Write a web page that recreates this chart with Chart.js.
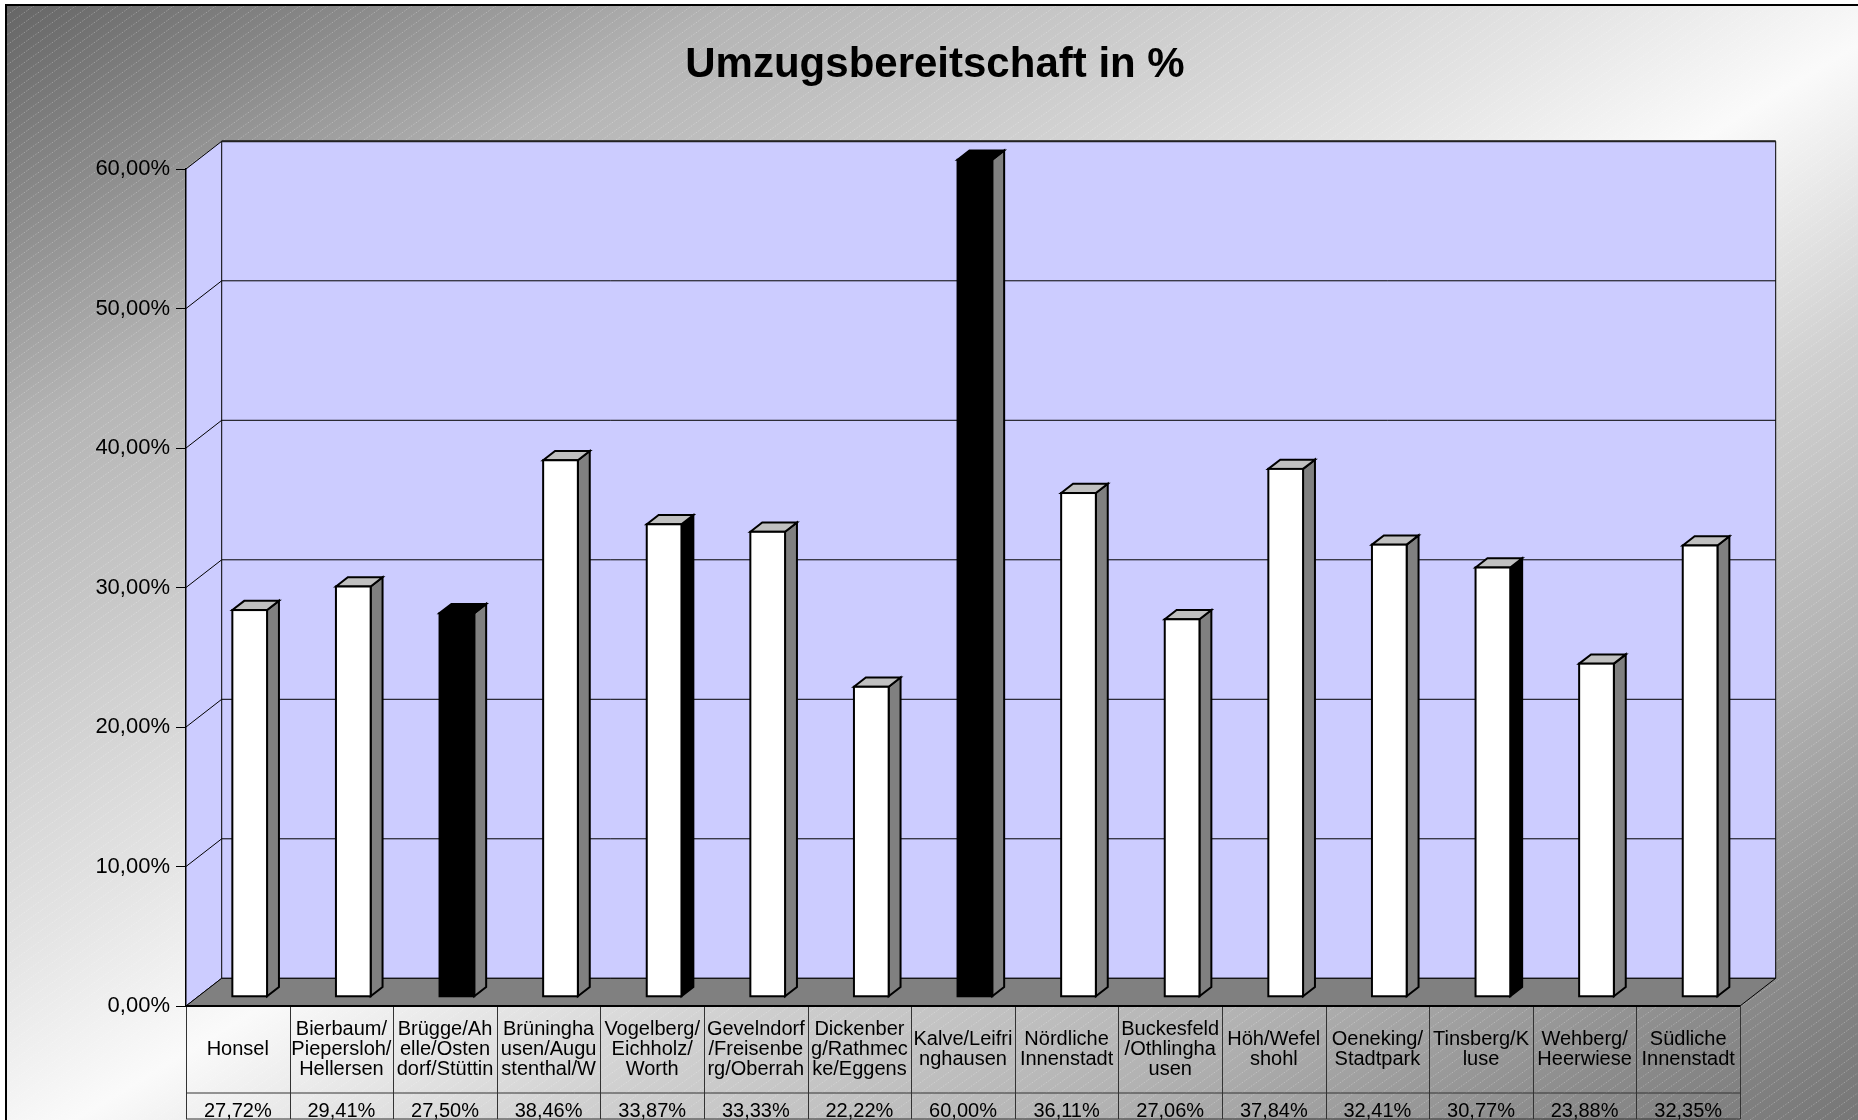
<!DOCTYPE html>
<html><head><meta charset="utf-8">
<script src="https://cdn.jsdelivr.net/npm/chart.js@4.4.1/dist/chart.umd.min.js"></script>
<style>html,body{margin:0;padding:0;background:#fff;overflow:hidden}canvas{display:block}</style>
</head><body>
<div style="width:1858px;height:1120px"><canvas id="c" width="1858" height="1120"></canvas></div>
<script>
// ---- data ----
const chartTitle = "Umzugsbereitschaft in %";
const categories = [
  ["Honsel"],
  ["Bierbaum/", "Piepersloh/", "Hellersen"],
  ["Brügge/Ah", "elle/Osten", "dorf/Stüttin"],
  ["Brüningha", "usen/Augu", "stenthal/W"],
  ["Vogelberg/", "Eichholz/", "Worth"],
  ["Gevelndorf", "/Freisenbe", "rg/Oberrah"],
  ["Dickenber", "g/Rathmec", "ke/Eggens"],
  ["Kalve/Leifri", "nghausen"],
  ["Nördliche", "Innenstadt"],
  ["Buckesfeld", "/Othlingha", "usen"],
  ["Höh/Wefel", "shohl"],
  ["Oeneking/", "Stadtpark"],
  ["Tinsberg/K", "luse"],
  ["Wehberg/", "Heerwiese"],
  ["Südliche", "Innenstadt"]
];
const values = [27.72, 29.41, 27.50, 38.46, 33.87, 33.33, 22.22, 60.00, 36.11, 27.06, 37.84, 32.41, 30.77, 23.88, 32.35];
const yTickValues = [0, 10, 20, 30, 40, 50, 60];

// ---- styles ----
const frontColors = values.map((v, i) => (i === 2 || i === 7) ? '#000000' : '#ffffff');
const sideColors  = values.map((v, i) => (i === 4 || i === 12) ? '#000000' : '#808080');
const topColors   = values.map((v, i) => (i === 2 || i === 7) ? '#000000' : '#c0c0c0');
const FONT = "'Liberation Sans', Arial, sans-serif";
const fmt = v => v.toFixed(2).replace('.', ',') + '%';
const DX = 35.7, DY = 27.7;

function hatchPattern(ctx) {
  const c = document.createElement('canvas');
  const w = 14, h = 10;
  c.width = w; c.height = h;
  const g = c.getContext('2d');
  g.strokeStyle = 'rgba(255,255,255,0.28)';
  g.lineWidth = 1;
  g.setLineDash([1.5, 1.5]);
  g.beginPath();
  g.moveTo(0, h); g.lineTo(w, 0);
  g.moveTo(-w, h); g.lineTo(0, 0);
  g.moveTo(w, 2 * h); g.lineTo(2 * w, h);
  g.stroke();
  return ctx.createPattern(c, 'repeat');
}

const plugin3d = {
  id: 'threeD',
  beforeDraw(chart) {
    const ctx = chart.ctx, W = chart.width, H = chart.height;
    ctx.save();
    ctx.fillStyle = '#ffffff';
    ctx.fillRect(0, 0, W, H);
    // gradient whose bands run parallel to the bottom-left -> top-right diagonal
    const cx = W / 2, cy = H / 2, len = Math.hypot(W, H);
    const ux = H / len, uy = W / len;
    const half = (cx * ux + cy * uy);
    const g = ctx.createLinearGradient(cx - half * ux, cy - half * uy, cx + half * ux, cy + half * uy);
    g.addColorStop(0, '#646464');
    g.addColorStop(0.1, '#8a8a8a');
    g.addColorStop(0.2, '#b4b4b4');
    g.addColorStop(0.3, '#c8c8c8');
    g.addColorStop(0.43, '#e4e4e4');
    g.addColorStop(0.52, '#fafafa');
    g.addColorStop(0.65, '#d0d0d0');
    g.addColorStop(0.79, '#b2b2b2');
    g.addColorStop(0.91, '#8c8c8c');
    g.addColorStop(1, '#767676');
    ctx.fillStyle = g;
    ctx.fillRect(6, 5, W - 6, H - 5);
    ctx.fillStyle = hatchPattern(ctx);
    ctx.fillRect(6, 5, W - 6, H - 5);
    ctx.strokeStyle = '#000'; ctx.lineWidth = 2;
    ctx.beginPath(); ctx.moveTo(6, H); ctx.lineTo(6, 5); ctx.lineTo(W, 5); ctx.stroke();

    const a = chart.chartArea, ys = chart.scales.y;
    const L = a.left, R = a.right, T = a.top, B = a.bottom;
    // back wall & left wall
    ctx.fillStyle = '#ccccff';
    ctx.fillRect(L + DX, T - DY, R - L, B - T);
    ctx.beginPath();
    ctx.moveTo(L, T); ctx.lineTo(L + DX, T - DY); ctx.lineTo(L + DX, B - DY); ctx.lineTo(L, B);
    ctx.closePath(); ctx.fill();
    // gridlines
    ctx.strokeStyle = '#000'; ctx.lineWidth = 1;
    ys.ticks.forEach(t => {
      const y = ys.getPixelForValue(t.value);
      ctx.beginPath();
      ctx.moveTo(L, y); ctx.lineTo(L + DX, y - DY); ctx.lineTo(R + DX, y - DY);
      ctx.stroke();
    });
    ctx.beginPath();
    ctx.moveTo(L + DX, B - DY); ctx.lineTo(L + DX, T - DY);
    ctx.moveTo(R + DX, T - DY); ctx.lineTo(R + DX, B - DY);
    ctx.stroke();
    ctx.lineWidth = 2; ctx.strokeStyle = '#222';
    ctx.beginPath(); ctx.moveTo(L + DX, T - DY); ctx.lineTo(R + DX, T - DY); ctx.stroke();
    // floor
    ctx.lineWidth = 1; ctx.strokeStyle = '#000';
    ctx.fillStyle = '#808080';
    ctx.beginPath();
    ctx.moveTo(L, B); ctx.lineTo(L + DX, B - DY); ctx.lineTo(R + DX, B - DY); ctx.lineTo(R, B);
    ctx.closePath(); ctx.fill(); ctx.stroke();
    ctx.restore();
  },
  afterDatasetsDraw(chart) {
    const ctx = chart.ctx;
    const meta = chart.getDatasetMeta(0);
    const fx = DX / 3, fy = DY / 3, bx = DX / 3, by = DY / 3;
    ctx.save();
    ctx.lineWidth = 2; ctx.strokeStyle = '#000'; ctx.lineJoin = 'miter';
    meta.data.forEach((el, i) => {
      const p = el.getProps(['x', 'y', 'base', 'width'], true);
      const x0 = p.x - p.width / 2 + fx, x1 = p.x + p.width / 2 + fx;
      const top = p.y - fy, bot = p.base - fy;
      ctx.fillStyle = sideColors[i];
      ctx.beginPath();
      ctx.moveTo(x1, top); ctx.lineTo(x1 + bx, top - by); ctx.lineTo(x1 + bx, bot - by); ctx.lineTo(x1, bot);
      ctx.closePath(); ctx.fill(); ctx.stroke();
      ctx.fillStyle = topColors[i];
      ctx.beginPath();
      ctx.moveTo(x0, top); ctx.lineTo(x0 + bx, top - by); ctx.lineTo(x1 + bx, top - by); ctx.lineTo(x1, top);
      ctx.closePath(); ctx.fill(); ctx.stroke();
      ctx.fillStyle = frontColors[i];
      ctx.fillRect(x0, top, x1 - x0, bot - top);
      ctx.strokeRect(x0, top, x1 - x0, bot - top);
    });
    ctx.restore();
  },
  afterDraw(chart) {
    const ctx = chart.ctx, xs = chart.scales.x, a = chart.chartArea;
    const n = categories.length;
    const cw = (a.right - a.left) / n;
    const top = a.bottom, mid = a.bottom + 87, bot = a.bottom + 113;
    ctx.save();
    ctx.strokeStyle = '#333'; ctx.lineWidth = 1;
    ctx.beginPath();
    ctx.moveTo(a.left, mid); ctx.lineTo(a.right, mid);
    ctx.moveTo(a.left, bot); ctx.lineTo(a.right, bot);
    for (let i = 0; i <= n; i++) {
      const x = (i < n ? xs.getPixelForValue(i) - cw / 2 : xs.getPixelForValue(n - 1) + cw / 2);
      ctx.moveTo(Math.round(x) + 0.5, top); ctx.lineTo(Math.round(x) + 0.5, bot);
    }
    ctx.stroke();
    ctx.strokeStyle = '#000'; ctx.lineWidth = 2;
    ctx.beginPath(); ctx.moveTo(a.left, top); ctx.lineTo(a.right, top); ctx.stroke();
    ctx.fillStyle = '#000';
    ctx.font = '20px ' + FONT;
    ctx.textAlign = 'center'; ctx.textBaseline = 'middle';
    const lh = 20, cy = a.bottom + 43;
    categories.forEach((lines, i) => {
      const x = xs.getPixelForValue(i);
      const y0 = cy - (lines.length - 1) * lh / 2;
      lines.forEach((t, k) => ctx.fillText(t, x, y0 + k * lh));
      ctx.fillText(fmt(values[i]), x, a.bottom + 105);
    });
    ctx.restore();
  }
};

new Chart(document.getElementById('c'), {
  type: 'bar',
  data: {
    labels: categories.map(c => c.join('')),
    datasets: [{
      data: values,
      backgroundColor: 'rgba(0,0,0,0)',
      borderWidth: 0,
      categoryPercentage: 1,
      barPercentage: 0.335,
      yAxisID: 'y'
    }]
  },
  options: {
    responsive: false,
    animation: false,
    devicePixelRatio: 1,
    layout: { padding: { left: 12, top: 0, right: 0, bottom: 114 } },
    plugins: {
      legend: { display: false },
      tooltip: { enabled: false },
      title: {
        display: true,
        text: chartTitle,
        color: '#000',
        font: { family: FONT, size: 42, weight: 'bold', lineHeight: 1.2 },
        padding: { top: 40, bottom: 78.6 }
      }
    },
    scales: {
      x: { display: false },
      y: {
        min: 0, max: 60,
        afterFit(scale) { scale.width = 174; },
        afterBuildTicks(scale) { scale.ticks = yTickValues.map(v => ({ value: v })); },
        ticks: {
          color: '#000',
          font: { family: FONT, size: 22 },
          padding: 6,
          callback: v => fmt(v)
        },
        grid: { drawOnChartArea: false, drawTicks: true, tickLength: 10, color: '#000' },
        border: { display: true, color: '#000', width: 1.5 }
      },
      yR: {
        position: 'right',
        min: 0, max: 60,
        afterFit(scale) { scale.width = 118; },
        ticks: { display: false },
        grid: { display: false, drawTicks: false },
        border: { display: false }
      }
    }
  },
  plugins: [plugin3d]
});
</script>
</body></html>
